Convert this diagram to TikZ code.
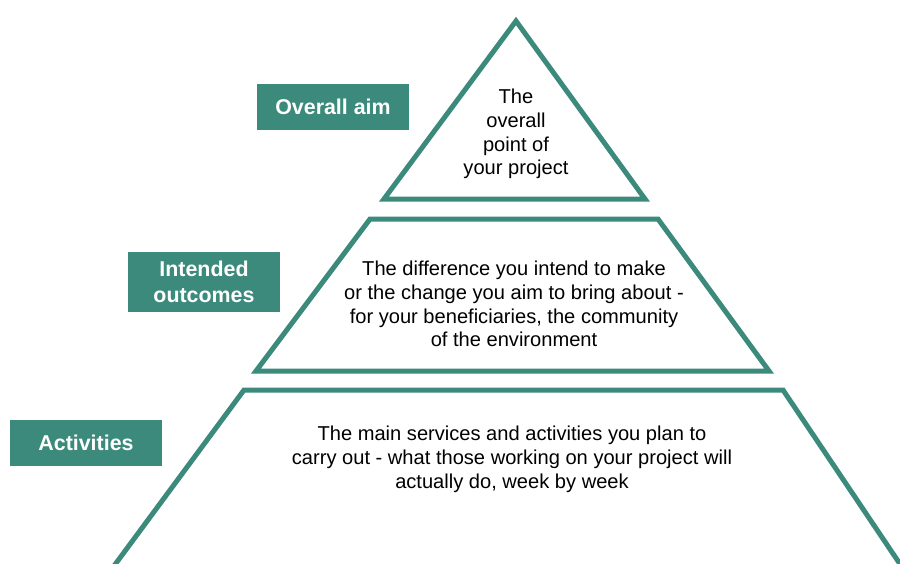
\documentclass[tikz,border=0pt]{standalone}
\usepackage{fontspec}
\setmainfont{Liberation Sans}
\definecolor{teal1}{RGB}{59,138,124}
\begin{document}
\begin{tikzpicture}[x=1pt,y=-1pt,
  tier/.style={draw=teal1,line width=5pt,line join=miter},
  tag/.style={fill=teal1,text=white,font=\fontsize{21.4}{26}\selectfont\bfseries,align=center,minimum width=152pt,inner sep=0pt},
  body/.style={font=\fontsize{20.1}{23.8}\selectfont,align=center,text=black,inner sep=0pt}]
\useasboundingbox (0,0) rectangle (900,563);
\clip (0,0) rectangle (900,563);
% top triangle
\coordinate (ta) at (516,21);
\coordinate (tl) at (384,199);
\coordinate (tr) at (645,199);
\draw[tier] (ta) -- (tr) -- (tl) -- cycle;
% middle trapezoid
\coordinate (ml) at (370,219);
\coordinate (mr) at (658,219);
\coordinate (mbr) at (769,371);
\coordinate (mbl) at (256,371);
\draw[tier] (ml) -- (mr) -- (mbr) -- (mbl) -- cycle;
% bottom trapezoid
\coordinate (bl) at (244,390);
\coordinate (br) at (783,390);
\coordinate (bbr) at (904,570);
\coordinate (bbl) at (111,570);
\draw[tier] (bl) -- (br) -- (bbr) -- (bbl) -- cycle;
% labels
\node[tag,minimum height=46pt] (aim) at (333,107) {Overall aim};
\node[tag,minimum height=60pt] (outc) at (204,282) {Intended\\outcomes};
\node[tag,minimum height=46pt] (act) at (86,443) {Activities};
% body texts
\node[body] (taim) at (516,134) {The\\overall\\point of\\your project};
\node[body] (tout) at (514,304) {The difference you intend to make\\or the change you aim to bring about -\\for your beneficiaries, the community\\of the environment};
\node[body] (tact) at (512,459) {The main services and activities you plan to\\carry out - what those working on your project will\\actually do, week by week};
\end{tikzpicture}
\end{document}
